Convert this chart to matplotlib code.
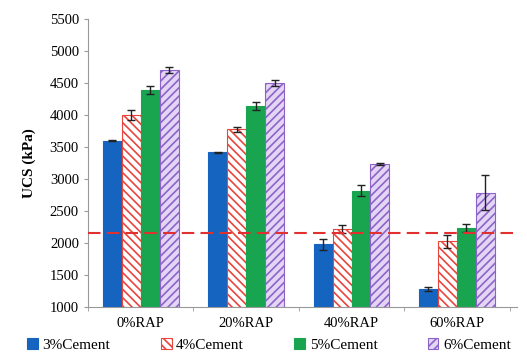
import numpy as np
import matplotlib
matplotlib.use('Agg')
import matplotlib.pyplot as plt

plt.rcParams['font.family'] = ['Liberation Serif', 'DejaVu Serif']
plt.rcParams['hatch.linewidth'] = 1.2

# Data
groups = ["0%RAP", "20%RAP", "40%RAP", "60%RAP"]
series = ["3%Cement", "4%Cement", "5%Cement", "6%Cement"]
ucs = [
    [3600, 3420, 1980, 1280],   # 3% cement
    [4000, 3780, 2220, 2030],   # 4% cement
    [4390, 4140, 2820, 2240],   # 5% cement
    [4700, 4500, 3230, 2790],   # 6% cement
]
err = [
    [10, 10, 80, 30],
    [80, 40, 60, 100],
    [60, 60, 90, 60],
    [50, 50, 15, 280],
]
threshold = 2150

face = ['#1565C0', 'white', '#19A550', '#E3D6F5']
edge = ['#1565C0', '#E8453C', '#19A550', '#8E63C9']
hatch = [None, '\\\\\\\\', None, '////']

fig = plt.figure(figsize=(5.27, 3.53), dpi=100)
ax = fig.add_axes([0.167, 0.13, 0.814, 0.816])

x = np.arange(len(groups))
w = 0.18
for i in range(4):
    pos = x + (i - 1.5) * w
    ax.bar(pos, ucs[i], w, bottom=0, color=face[i], edgecolor=edge[i],
           hatch=hatch[i], linewidth=0.8, label=series[i], zorder=2)
    ax.errorbar(pos, ucs[i], yerr=err[i], fmt='none', ecolor='#222222',
                elinewidth=1, capsize=3, capthick=1, zorder=3)

ax.axhline(threshold, color='#E03030', linestyle=(0, (6, 3)), linewidth=1.5, zorder=4)

ax.set_ylim(1000, 5500)
ax.set_xlim(-0.49, 3.57)
ax.set_yticks(range(1000, 5501, 500))
ax.set_xticks(x)
ax.set_xticklabels(groups)
ax.set_xticks(np.arange(-0.5, 3.6, 1), minor=True)
ax.tick_params(axis='x', which='major', length=0, labelsize=10.5, pad=7)
ax.tick_params(axis='x', which='minor', length=3, color='#999999')
ax.tick_params(axis='y', labelsize=10.5, length=3, color='#999999')
ax.set_ylabel("UCS (kPa)", fontsize=11, fontweight='bold', labelpad=10)

for s in ['top', 'right']:
    ax.spines[s].set_visible(False)
for s in ['left', 'bottom']:
    ax.spines[s].set_color('#999999')

fig.legend(loc='center left', bbox_to_anchor=(0.052, 0.022), ncol=4, frameon=False,
           fontsize=11, handlelength=0.7, handleheight=0.7, handletextpad=0.3,
           columnspacing=3.3, borderpad=0, borderaxespad=0)

fig.savefig('out.png', dpi=100)
